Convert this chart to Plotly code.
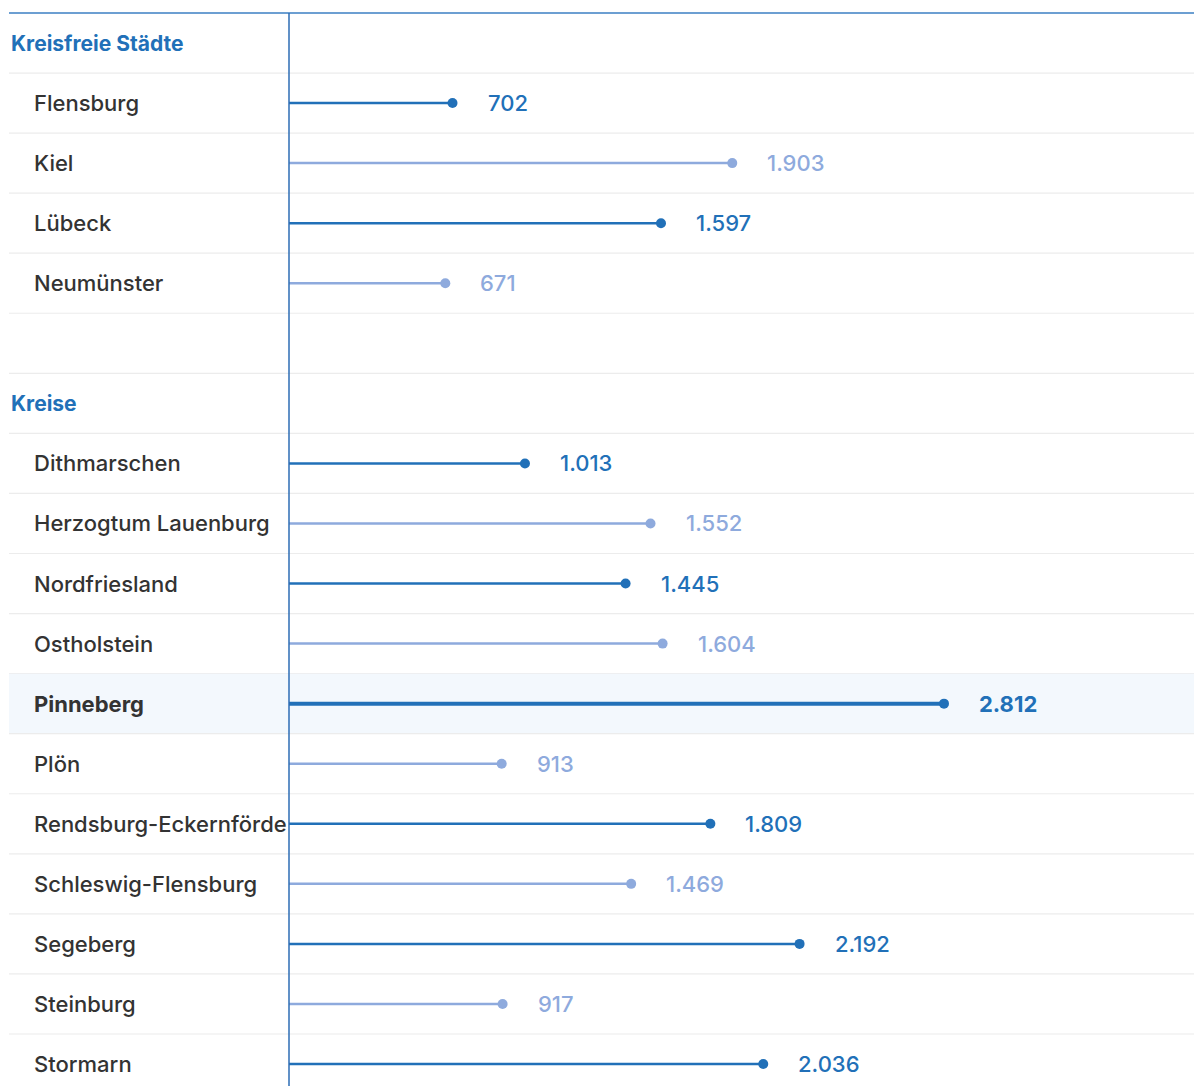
import plotly.graph_objects as go

# page has an 8px body margin; figure is placed at (8, 8)
OFF = 8
W, H = 1202 - OFF, 1086 - OFF

group_titles = ["Kreisfreie Städte", "Kreise"]
staedte = ["Flensburg", "Kiel", "Lübeck", "Neumünster"]
staedte_values = [702, 1903, 1597, 671]
kreise = ["Dithmarschen", "Herzogtum Lauenburg", "Nordfriesland", "Ostholstein",
          "Pinneberg", "Plön", "Rendsburg-Eckernförde", "Schleswig-Flensburg",
          "Segeberg", "Steinburg", "Stormarn"]
kreise_values = [1013, 1552, 1445, 1604, 2812, 913, 1809, 1469, 2192, 917, 2036]
highlight = "Pinneberg"

DARK = "#2170b8"
LIGHT = "#8eaadd"
TEXT = "#333333"
FONT = "Inter"
FS = 22

rows = []
rows.append(("header", group_titles[0], None, None))
for k, (n, v) in enumerate(zip(staedte, staedte_values)):
    rows.append(("item", n, v, k))
rows.append(("blank", "", None, None))
rows.append(("header", group_titles[1], None, None))
for k, (n, v) in enumerate(zip(kreise, kreise_values)):
    rows.append(("item", n, v, k))

# pixel geometry (figure pixels)
x0_px = 289 - OFF
px_per_unit = 655 / 2812
left_px = 9 - OFF
label_px = 32 - OFF
row_h = 60.06
first_center = 43 - OFF
right_edge = (W + 2 * OFF) / W  # run lines off the right edge of the page

x_min = -x0_px / px_per_unit
x_max = (W - x0_px) / px_per_unit
y_top = -first_center / row_h
y_bot = (H - first_center) / row_h

def fmt(v):
    return f"{v:,}".replace(",", ".")

fig = go.Figure()
shapes = []
annotations = []

shapes.append(dict(type="line", xref="paper", yref="y", x0=left_px / W, x1=right_edge,
                   y0=-0.5, y1=-0.5, line=dict(color="#6c9fd2", width=2), layer="below"))

for i, (kind, label, val, k) in enumerate(rows):
    is_hl = label == highlight
    if is_hl:
        shapes.append(dict(type="rect", xref="paper", yref="y", x0=left_px / W, x1=right_edge,
                           y0=i - 0.5, y1=i + 0.5, fillcolor="#f3f8fd",
                           line=dict(width=0), layer="below"))
    shapes.append(dict(type="line", xref="paper", yref="y", x0=left_px / W, x1=right_edge,
                       y0=i + 0.5, y1=i + 0.5, line=dict(color="#ececec", width=1.2),
                       layer="below"))
    if kind == "header":
        annotations.append(dict(xref="paper", yref="y", x=left_px / W, y=i, text=label,
                                showarrow=False, xanchor="left", yanchor="middle",
                                font=dict(family=FONT, size=FS - 1, color=DARK, weight=700)))
    elif kind == "item":
        color = DARK if k % 2 == 0 else LIGHT
        lw = 4 if is_hl else 2.5
        fig.add_trace(go.Scatter(x=[0, val], y=[i, i], mode="lines",
                                 line=dict(color=color, width=lw), hoverinfo="skip",
                                 showlegend=False))
        fig.add_trace(go.Scatter(x=[val], y=[i], mode="markers",
                                 marker=dict(color=color, size=10), showlegend=False))
        wt = 700 if is_hl else 500
        annotations.append(dict(xref="paper", yref="y", x=label_px / W, y=i, text=label,
                                showarrow=False, xanchor="left", yanchor="middle",
                                font=dict(family=FONT, size=FS, color=TEXT, weight=wt)))
        annotations.append(dict(xref="x", yref="y", x=val, y=i, text=fmt(val), xshift=33,
                                showarrow=False, xanchor="left", yanchor="middle",
                                font=dict(family=FONT, size=FS, color=color, weight=wt)))

shapes.append(dict(type="line", xref="x", yref="y", x0=0, x1=0, y0=-0.5, y1=y_bot,
                   line=dict(color="#2c6db5", width=1.5)))

fig.update_layout(
    width=W, height=H,
    margin=dict(l=0, r=0, t=0, b=0),
    paper_bgcolor="white", plot_bgcolor="rgba(0,0,0,0)",
    xaxis=dict(range=[x_min, x_max], visible=False, fixedrange=True),
    yaxis=dict(range=[y_bot, y_top], visible=False, fixedrange=True),
    shapes=shapes, annotations=annotations,
    font=dict(family=FONT),
)

fig.write_html(
    "out.html",
    post_script="document.documentElement.style.overflow='hidden';"
                "document.body.style.overflow='hidden';",
)
